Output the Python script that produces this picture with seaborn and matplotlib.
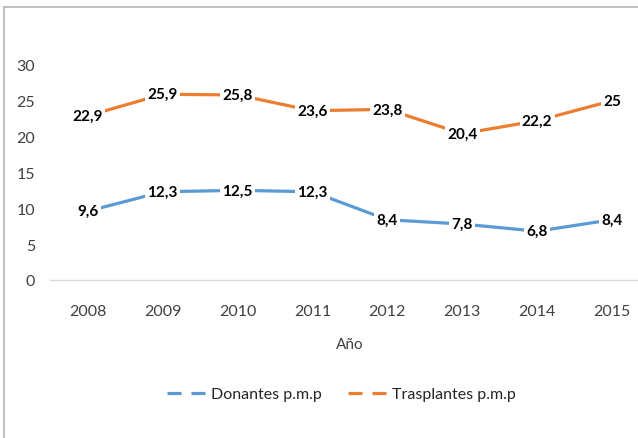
import pandas as pd
import matplotlib.pyplot as plt
import seaborn as sns
from matplotlib.lines import Line2D

# datos
anios = ['2008', '2009', '2010', '2011', '2012', '2013', '2014', '2015']
donantes = [9.6, 12.3, 12.5, 12.3, 8.4, 7.8, 6.8, 8.4]
trasplantes = [22.9, 25.9, 25.8, 23.6, 23.8, 20.4, 22.2, 25]
series = ['Donantes p.m.p', 'Trasplantes p.m.p']
colores = ['#5B9BD5', '#ED7D31']

df = pd.DataFrame({
    'anio': anios * 2,
    'valor': donantes + trasplantes,
    'serie': [series[0]] * len(anios) + [series[1]] * len(anios),
})

sns.set_theme(style='white')
plt.rcParams['font.family'] = ['Lato', 'DejaVu Sans']

fig = plt.figure(figsize=(6.38, 4.39), dpi=100)
ax = fig.add_axes([0.079, 0.36, 0.939, 0.49])

sns.lineplot(data=df, x='anio', y='valor', hue='serie', palette=colores,
             linewidth=2.3, ax=ax, legend=False, clip_on=False, sort=False)

# etiquetas de datos
for vals in [donantes, trasplantes]:
    for i, v in enumerate(vals):
        txt = f'{v:g}'.replace('.', ',')
        ax.text(i, v, txt, ha='center', va='center', fontsize=11, fontweight='bold',
                color='black', zorder=5,
                bbox=dict(boxstyle='square,pad=0.15', fc='white', ec='none'))

ax.set_xlim(-0.5, 7.5)
ax.set_ylim(0, 30)
ax.set_yticks([0, 5, 10, 15, 20, 25, 30])
ax.set_xlabel('Año', fontsize=11, color='#404040', labelpad=14)
ax.set_ylabel('')
ax.tick_params(axis='both', length=0, labelsize=11.5, labelcolor='#404040')
ax.tick_params(axis='x', pad=17)
ax.tick_params(axis='y', pad=11)
for s in ['top', 'right', 'left']:
    ax.spines[s].set_visible(False)
ax.spines['bottom'].set_color('#d9d9d9')
ax.spines['bottom'].set_linewidth(1)
ax.grid(False)

handles = [Line2D([0], [0], color=c, lw=2.3, linestyle=(0, (4.4, 3.1))) for c in colores]
fig.legend(handles, series, loc='center', bbox_to_anchor=(0.535, 0.1), ncol=2,
           frameon=False, fontsize=11.5, handlelength=2.5, columnspacing=1.6,
           handletextpad=0.25)

# marco del grafico (solo arriba e izquierda visibles)
fig.add_artist(Line2D([0.006, 1], [0.982, 0.982], color='#b5b5b5', lw=1.2))
fig.add_artist(Line2D([0.006, 0.006], [0, 0.982], color='#b5b5b5', lw=1.2))

fig.savefig('out.png', dpi=100)
